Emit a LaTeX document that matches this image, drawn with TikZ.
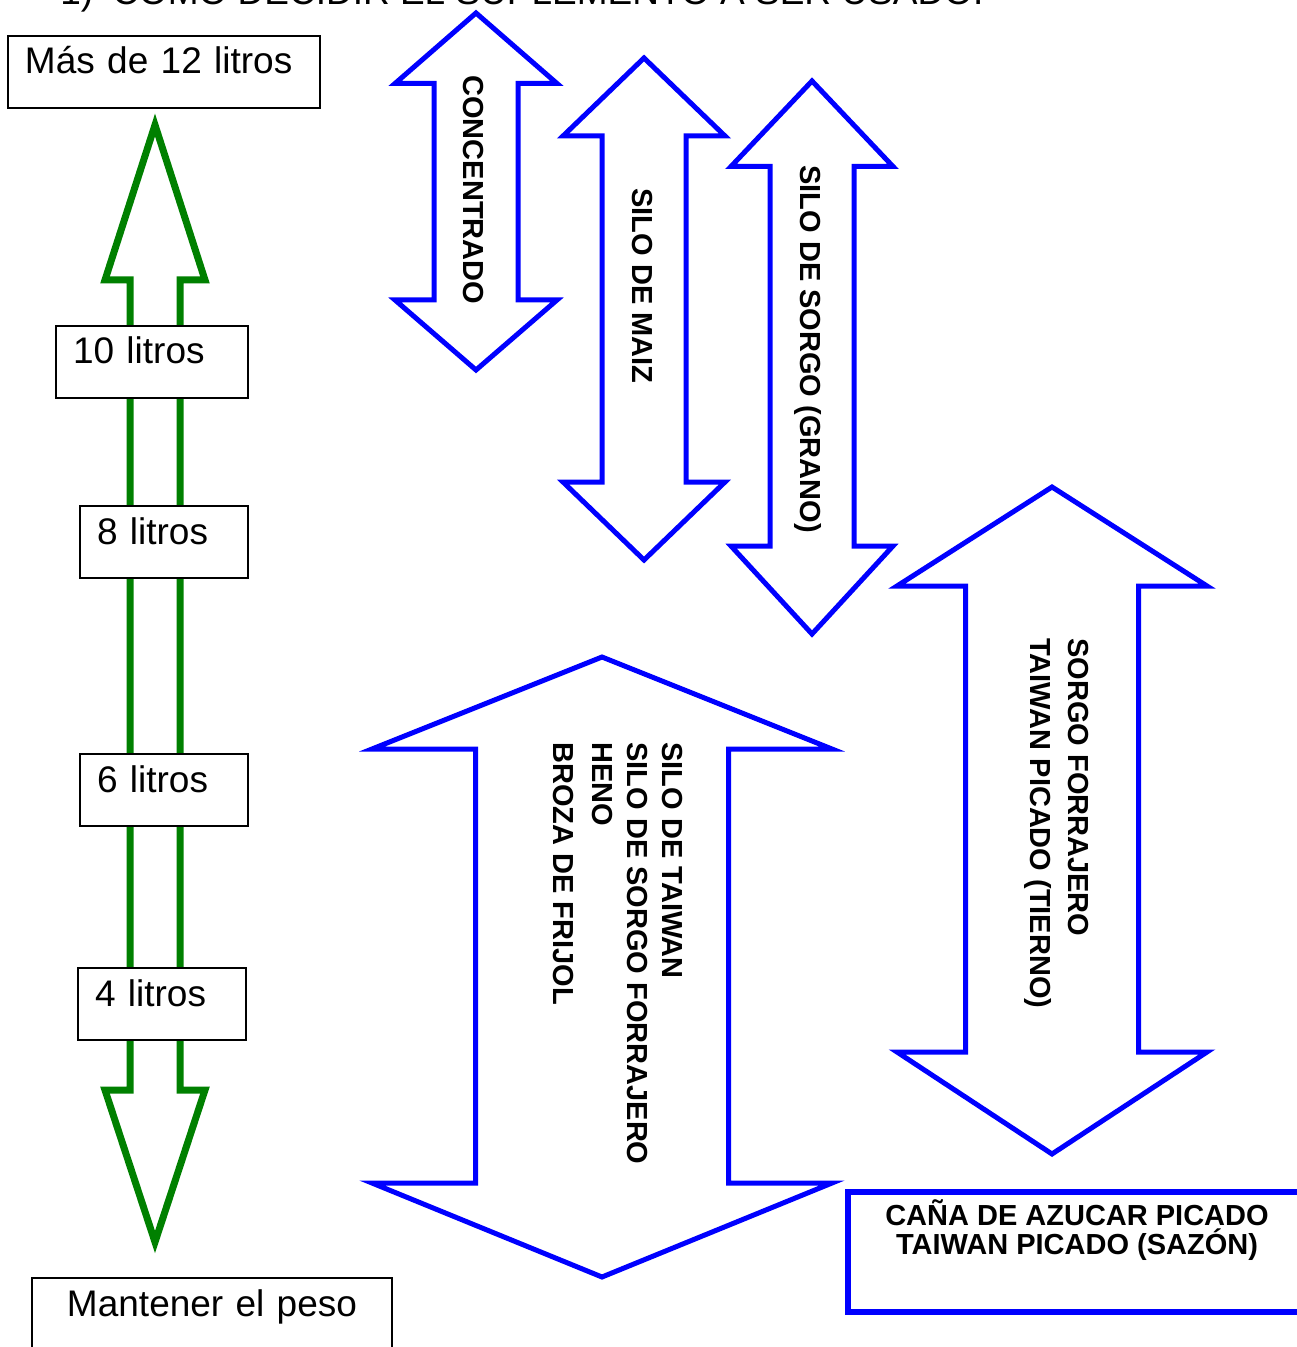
\documentclass[tikz,border=0pt]{standalone}
\usepackage{fontspec}
\setmainfont{Liberation Sans}
\definecolor{dgreen}{RGB}{0,128,0}
\definecolor{pblue}{RGB}{0,0,255}
\newcommand\regf{\fontsize{18.5pt}{22pt}\selectfont}
\newcommand\bldf{\fontsize{14.5pt}{17pt}\selectfont\bfseries}
\newcommand\dblarr[7]{%
  \draw[barrow] (#1,#2) -- ({#1+#6},#3) -- ({#1+#7},#3) -- ({#1+#7},#4)
    -- ({#1+#6},#4) -- (#1,#5) -- ({#1-#6},#4) -- ({#1-#7},#4)
    -- ({#1-#7},#3) -- ({#1-#6},#3) -- cycle;}
\begin{document}
\begin{tikzpicture}[x=0.5pt,y=-0.5pt,
  garrow/.style={draw=dgreen, line width=3.5pt, line join=miter},
  barrow/.style={draw=pblue, fill=white, line width=2.5pt, line join=miter},
  lbox/.style={draw=black, fill=white, line width=1pt, inner xsep=8.5pt,
    inner ysep=0pt, outer sep=0pt, anchor=north west, text height=19pt,
    text depth=17pt, font=\regf, align=left},
  btext/.style={font=\bldf, rotate=-90, anchor=base west, inner sep=0pt},
  ctext/.style={font=\bldf, anchor=base, inner sep=0pt}]
\useasboundingbox (0,0) rectangle (1296,1347);

% title (cut by the top edge)
\node[font=\regf, anchor=base west, inner sep=0pt] (title) at (60,5)
  {1)\hspace{9.5pt}COMO DECIDIR EL SUPLEMENTO A SER USADO.};

% green double arrow
\draw[garrow] (155,125) -- (205,280) -- (180,280) -- (180,1090) -- (205,1090)
  -- (155,1242) -- (105,1090) -- (130,1090) -- (130,280) -- (105,280) -- cycle;

% black boxes
\node[lbox, text width=139pt] (b12) at (8,36) {Más de 12 litros};
\node[lbox, text width=79pt] (b10) at (56,326) {10 litros};
\node[lbox, text width=67pt] (b8) at (80,506) {8 litros};
\node[lbox, text width=67pt] (b6) at (80,754) {6 litros};
\node[lbox, text width=67pt] (b4) at (78,968) {4 litros};
\node[lbox, text width=163pt, align=center] (bm) at (32,1278) {Mantener el peso};

% blue double arrows
\dblarr{476}{13}{83.5}{300}{370}{81}{42}
\dblarr{644}{58}{136}{482}{560}{81}{42}
\dblarr{812}{81}{166.5}{546}{634}{81}{42}
\dblarr{1052}{487}{586}{1052}{1154}{155}{86.5}
\dblarr{602}{657}{749}{1183}{1277}{230}{126.5}

% texts in blue arrows
\node[btext] (tconc) at (463,75) {CONCENTRADO};
\node[btext] (tmaiz) at (632,188) {SILO DE MAIZ};
\node[btext] (tgrano) at (800,165) {SILO DE SORGO (GRANO)};
\node[btext] (tsf) at (1068,638) {SORGO FORRAJERO};
\node[btext] (ttp) at (1030,638) {TAIWAN PICADO (TIERNO)};
\node[btext] (ts1) at (662,742) {SILO DE TAIWAN};
\node[btext] (ts2) at (627,742) {SILO DE SORGO FORRAJERO};
\node[btext] (ts3) at (592,742) {HENO};
\node[btext] (ts4) at (553,742) {BROZA DE FRIJOL};

% blue box
\node[draw=pblue, line width=3pt, minimum width=229pt, minimum height=60pt,
  inner sep=0pt, outer sep=0pt, anchor=north west] (cana) at (848,1192) {};
\node[ctext] (c1) at (1077,1225) {CAÑA DE AZUCAR PICADO};
\node[ctext] (c2) at (1077,1254) {TAIWAN PICADO (SAZÓN)};
\end{tikzpicture}
\end{document}
